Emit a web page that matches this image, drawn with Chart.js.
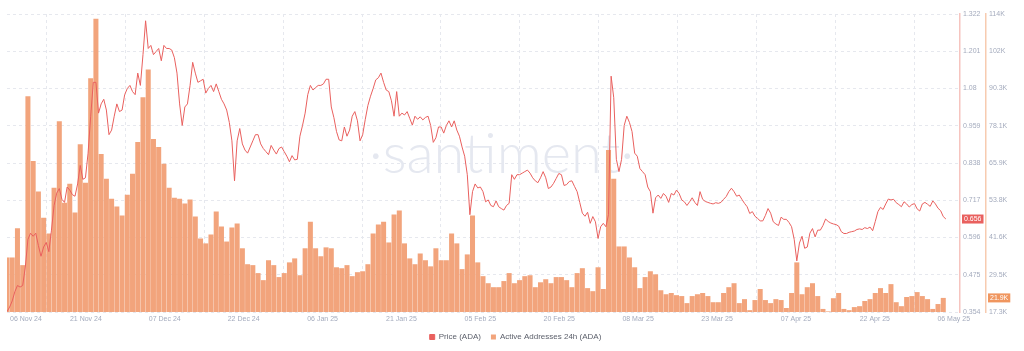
<!DOCTYPE html>
<html>
<head>
<meta charset="utf-8">
<title>ADA price vs active addresses</title>
<script src="https://cdn.jsdelivr.net/npm/chart.js@4.4.1/dist/chart.umd.min.js"></script>
<style>
  html, body { margin: 0; padding: 0; background: #fff; }
  .chart-wrap { width: 1024px; height: 351px; position: relative; }
</style>
</head>
<body>
<div class="chart-wrap"><canvas id="adaChart"></canvas></div>
<script>
// x axis labels (evenly spaced over the 181 day window)
const xTickLabels = ['06 Nov 24', '21 Nov 24', '07 Dec 24', '22 Dec 24', '06 Jan 25', '21 Jan 25', '05 Feb 25',
    '20 Feb 25', '08 Mar 25', '23 Mar 25', '07 Apr 25', '22 Apr 25', '06 May 25'];
const windowDays = 181;

// right axes tick labels
const priceTickLabels = ['0.354', '0.475', '0.596', '0.717', '0.838', '0.959', '1.08', '1.201', '1.322'];
const activeTickLabels = ['17.3K', '29.5K', '41.6K', '53.8K', '65.9K', '78.1K', '90.3K', '102K', '114K'];

// Price (ADA), one value every 12 hours starting 06 Nov 24
const priceValues = [
    0.355, 0.37, 0.39, 0.42, 0.44, 0.435, 0.44, 0.50, 0.59, 0.61,
    0.60, 0.61, 0.57, 0.535, 0.565, 0.58, 0.55, 0.62, 0.70, 0.74,
    0.755, 0.72, 0.71, 0.76, 0.75, 0.735, 0.73, 0.77, 0.83, 0.785,
    0.79, 0.87, 0.99, 1.10, 1.10, 1.00, 1.03, 1.045, 1.01, 0.93,
    0.945, 0.99, 1.03, 1.005, 1.01, 1.06, 1.08, 1.09, 1.07, 1.06,
    1.13, 1.09, 1.19, 1.30, 1.21, 1.22, 1.19, 1.20, 1.21, 1.17,
    1.22, 1.21, 1.21, 1.205, 1.18, 1.13, 1.03, 0.96, 1.02, 1.03,
    1.09, 1.165, 1.13, 1.10, 1.105, 1.11, 1.065, 1.08, 1.09, 1.07,
    1.095, 1.07, 1.045, 1.03, 1.01, 0.97, 0.91, 0.78, 0.91, 0.95,
    0.90, 0.88, 0.87, 0.89, 0.91, 0.93, 0.93,
    0.90, 0.885, 0.875, 0.865, 0.895, 0.88, 0.867, 0.885, 0.89, 0.875,
    0.86, 0.842, 0.862, 0.848, 0.85, 0.925, 0.96, 1.00, 1.06, 1.09,
    1.075, 1.083, 1.09, 1.09, 1.095, 1.11, 1.11, 1.02, 0.985, 0.94,
    0.913, 0.91, 0.955, 0.925, 0.945, 0.99, 1.005, 0.975, 0.91, 0.93,
    0.98, 1.025, 1.055, 1.08, 1.108, 1.115, 1.13, 1.10, 1.075, 1.07,
    1.04, 0.99, 1.07, 0.99, 1.00, 0.994, 1.005, 0.983, 0.961, 0.99,
    0.98, 0.988, 0.978, 0.986, 0.99, 0.96, 0.905, 0.92, 0.955, 0.955,
    0.935, 0.96, 0.975, 0.955, 0.975, 0.945, 0.925, 0.89, 0.86, 0.80,
    0.67, 0.745, 0.77, 0.757, 0.76, 0.745, 0.712, 0.718, 0.70, 0.696,
    0.715, 0.696, 0.69, 0.685, 0.70, 0.707,
    0.80, 0.785, 0.80, 0.80, 0.805, 0.81, 0.815, 0.805, 0.79, 0.78,
    0.774, 0.79, 0.81, 0.79, 0.755, 0.76, 0.772, 0.788, 0.804, 0.80,
    0.765, 0.768, 0.778, 0.78, 0.762, 0.745, 0.71, 0.675, 0.665, 0.678,
    0.642, 0.664, 0.647, 0.593, 0.631, 0.642, 0.631, 0.67, 1.12, 1.05,
    0.85, 0.81, 0.85, 0.96, 0.99, 0.97, 0.94, 0.87, 0.86, 0.82,
    0.81, 0.80, 0.76, 0.745, 0.675, 0.725, 0.734, 0.723, 0.739, 0.73,
    0.71, 0.739, 0.734, 0.75, 0.739, 0.718, 0.712, 0.70, 0.712, 0.725,
    0.71, 0.70, 0.745, 0.72, 0.713, 0.71, 0.707, 0.705, 0.709, 0.707,
    0.71, 0.72, 0.729, 0.745, 0.756, 0.745, 0.73, 0.734, 0.72, 0.707,
    0.696, 0.674, 0.68, 0.665, 0.658, 0.65,
    0.65, 0.668, 0.69, 0.675, 0.647, 0.64, 0.635, 0.662, 0.655, 0.655,
    0.645, 0.631, 0.59, 0.52, 0.578, 0.60, 0.561, 0.565, 0.61, 0.625,
    0.598, 0.62, 0.62, 0.635, 0.656, 0.648, 0.643, 0.64, 0.638, 0.633,
    0.615, 0.609, 0.609, 0.613, 0.615, 0.617, 0.622, 0.624, 0.622, 0.628,
    0.625, 0.63, 0.618, 0.648, 0.68, 0.694, 0.687, 0.705, 0.721, 0.718,
    0.72, 0.709, 0.703, 0.696, 0.712, 0.705, 0.695, 0.703, 0.706, 0.689,
    0.682, 0.705, 0.71, 0.704, 0.697, 0.715, 0.705, 0.691, 0.683, 0.664,
    0.656
];

// Active Addresses 24h (ADA), thousands, one bar per day
const activeValues = [
    35.1, 35.1, 44.6, 32.6, 87.7, 66.6, 56.6, 48.1, 42.9, 57.9,
    79.6, 53.0, 59.2, 49.8, 72.1, 59.5, 93.6, 113.0, 68.9, 60.8,
    54.3, 51.7, 48.8, 55.6, 62.4, 72.8, 87.4, 96.5, 73.8, 71.2,
    65.7, 57.9, 54.6, 54.3, 52.7, 54.0, 48.5, 41.3, 39.7, 42.6,
    50.1, 45.2, 40.3, 44.9, 46.2, 38.1, 32.9, 32.6, 30.0, 27.7,
    34.2, 32.6, 28.7, 30.0, 33.5, 34.8, 29.3, 38.1, 46.8, 38.1,
    35.5, 38.4, 38.1, 31.9, 31.6, 32.6, 29.0, 30.3, 30.6, 32.9,
    42.9, 45.9, 46.8, 40.0, 49.1, 50.4, 39.7, 34.8, 32.9, 36.4,
    34.2, 32.2, 38.1, 34.2, 34.2, 42.9, 39.7, 31.3, 36.1, 48.8,
    33.5, 29.0, 26.7, 25.4, 25.4, 27.4, 30.0, 26.7, 27.7, 29.0,
    29.3, 25.4, 27.0, 28.0, 26.7, 28.7, 28.7, 27.7, 25.4, 30.0,
    31.6, 25.1, 24.1, 31.9, 24.8, 70.2, 60.8, 38.7, 38.7, 35.1,
    31.9, 25.1, 28.7, 30.6, 29.6, 24.4, 23.1, 23.5, 22.8, 22.5,
    20.2, 22.5, 23.1, 23.5, 22.5, 20.5, 20.5, 23.5, 25.4, 26.7,
    20.2, 21.5, 17.9, 21.2, 24.8, 21.2, 20.2, 21.5, 21.2, 18.6,
    23.5, 33.5, 23.1, 25.4, 26.7, 22.5, 18.3, 17.5, 21.8, 23.5,
    18.3, 17.9, 18.9, 19.2, 20.9, 21.5, 23.5, 25.1, 23.5, 26.4,
    20.5, 19.2, 22.2, 22.5, 23.8, 22.5, 21.5, 18.3, 19.9, 21.9
];

document.addEventListener('DOMContentLoaded', function() {

    const axisText = '#a4abbd';
    const gridColor = '#e6e8ee';
    const priceColor = '#e9605e';
    const activeColor = '#f2a47c';

    const priceMin = parseFloat(priceTickLabels[0]);
    const priceMax = parseFloat(priceTickLabels[priceTickLabels.length - 1]);
    const activeMin = 17.3;
    const activeMax = 114.58;

    // --- faint brand watermark behind the data ---
    const watermarkPlugin = {
        id: 'watermark',
        beforeDatasetsDraw(chart) {
            const { ctx, chartArea } = chart;
            ctx.save();
            ctx.font = '300 56px Lato, "Open Sans", sans-serif';
            ctx.fillStyle = '#e5e8f0';
            ctx.textAlign = 'center';
            ctx.textBaseline = 'alphabetic';
            ctx.fillText('\u00b7santiment\u00b7', chartArea.left + chartArea.width * 0.519, chartArea.top + chartArea.height * 0.534);
            ctx.restore();
        }
    };

    // --- x labels, first one pushed inside the plot ---
    const xLabelPlugin = {
        id: 'xLabels',
        afterDraw(chart) {
            const { ctx, chartArea } = chart;
            const scale = chart.scales.x;
            ctx.save();
            ctx.font = '7px "Liberation Sans", Arial, sans-serif';
            ctx.fillStyle = axisText;
            ctx.textAlign = 'center';
            ctx.textBaseline = 'middle';
            scale.ticks.forEach((tick, i) => {
                const label = xTickLabels[i];
                const w = ctx.measureText(label).width;
                let x = scale.getPixelForValue(tick.value);
                x = Math.max(x, chartArea.left + w / 2 + 3);
                ctx.fillText(label, x, chartArea.bottom + 7);
            });
            ctx.restore();
        }
    };

    // --- current value tags on both right axes ---
    function drawTag(ctx, text, x, y, color) {
        ctx.font = '7px "Liberation Sans", Arial, sans-serif';
        const w = ctx.measureText(text).width + 4;
        ctx.fillStyle = color;
        ctx.fillRect(x, y - 4.5, w, 9);
        ctx.fillStyle = '#fff';
        ctx.textAlign = 'left';
        ctx.textBaseline = 'middle';
        ctx.fillText(text, x + 2, y + 0.5);
    }

    const lastValuePlugin = {
        id: 'lastValue',
        afterDraw(chart) {
            const ctx = chart.ctx;
            const yP = chart.scales.yPrice;
            const yA = chart.scales.yActive;
            const lastPrice = priceValues[priceValues.length - 1];
            const lastActive = activeValues[activeValues.length - 1];
            ctx.save();
            drawTag(ctx, lastPrice.toFixed(3), yP.left + 2, yP.getPixelForValue(lastPrice), priceColor);
            drawTag(ctx, lastActive.toFixed(1) + 'K', yA.left + 2, yA.getPixelForValue(lastActive), '#f0965f');
            ctx.restore();
        }
    };

    const ctx = document.getElementById('adaChart');

    new Chart(ctx, {
        type: 'bar',
        data: {
            datasets: [
                {
                    type: 'line',
                    label: 'Price (ADA)',
                    data: priceValues.map((v, i) => ({ x: i / 2, y: v })),
                    yAxisID: 'yPrice',
                    borderColor: priceColor,
                    backgroundColor: priceColor,
                    borderWidth: 1,
                    pointRadius: 0,
                    tension: 0,
                    clip: 0,
                    order: 0
                },
                {
                    type: 'bar',
                    label: 'Active Addresses 24h (ADA)',
                    data: activeValues.map((v, i) => ({ x: i, y: v })),
                    yAxisID: 'yActive',
                    backgroundColor: activeColor,
                    borderWidth: 0,
                    barPercentage: 0.96,
                    categoryPercentage: 1,
                    clip: 0,
                    order: 1
                }
            ]
        },
        options: {
            responsive: true,
            maintainAspectRatio: false,
            animation: false,
            layout: { padding: { left: 7, top: 14, right: 0, bottom: 0 } },
            plugins: {
                tooltip: { enabled: false },
                legend: {
                    position: 'bottom',
                    labels: {
                        boxWidth: 5,
                        boxHeight: 5,
                        padding: 10,
                        color: '#5b5f6a',
                        font: { size: 8, family: '"Liberation Sans", Arial, sans-serif' }
                    }
                }
            },
            scales: {
                x: {
                    type: 'linear',
                    min: 0,
                    max: 182.2,
                    offset: false,
                    afterBuildTicks: (scale) => {
                        scale.ticks = xTickLabels.map((l, i) => ({ value: i * windowDays / (xTickLabels.length - 1) }));
                    },
                    afterFit: (scale) => { scale.height = 11; },
                    ticks: { display: false },
                    grid: { color: gridColor, drawTicks: false },
                    border: { display: false, dash: [3, 3] }
                },
                yPrice: {
                    type: 'linear',
                    position: 'right',
                    weight: 0,
                    min: priceMin,
                    max: priceMax,
                    afterBuildTicks: (scale) => {
                        scale.ticks = priceTickLabels.map(l => ({ value: parseFloat(l) }));
                    },
                    afterFit: (scale) => { scale.width = 26; },
                    ticks: {
                        color: axisText,
                        padding: 3,
                        font: { size: 7, family: '"Liberation Sans", Arial, sans-serif' },
                        callback: (value, index) => priceTickLabels[index]
                    },
                    grid: { color: gridColor, drawTicks: false },
                    border: { display: true, color: '#f6c4bf', width: 1.5, dash: [3, 3] }
                },
                yActive: {
                    type: 'linear',
                    position: 'right',
                    weight: 1,
                    min: activeMin,
                    max: activeMax,
                    afterBuildTicks: (scale) => {
                        const step = (activeMax - activeMin) / (activeTickLabels.length - 1);
                        scale.ticks = activeTickLabels.map((l, i) => ({ value: activeMin + i * step }));
                    },
                    afterFit: (scale) => { scale.width = 38; },
                    ticks: {
                        color: axisText,
                        padding: 3,
                        font: { size: 7, family: '"Liberation Sans", Arial, sans-serif' },
                        callback: (value, index) => activeTickLabels[index]
                    },
                    grid: { display: false, drawTicks: false },
                    border: { display: true, color: '#f7cbb0', width: 1.5 }
                }
            }
        },
        plugins: [watermarkPlugin, xLabelPlugin, lastValuePlugin]
    });

});
</script>
</body>
</html>
